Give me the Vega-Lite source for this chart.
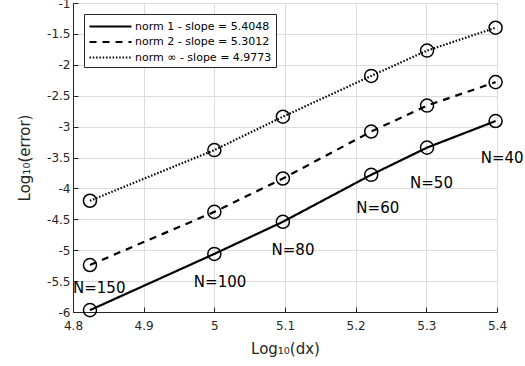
{
  "$schema": "https://vega.github.io/schema/vega-lite/v6.json",
  "width": 424,
  "height": 309,
  "autosize": "none",
  "padding": {"left": 73, "top": 3, "right": 28, "bottom": 54},
  "background": "white",
  "config": {
    "font": "DejaVu Sans",
    "view": {"stroke": "#262626", "strokeWidth": 1},
    "axis": {
      "domainColor": "#262626",
      "tickColor": "#262626",
      "labelColor": "#262626",
      "titleColor": "#262626",
      "labelFontSize": 12,
      "titleFontSize": 15,
      "titleFontWeight": "normal",
      "gridColor": "#dcdcdc",
      "gridWidth": 1,
      "tickSize": -5,
      "labelOverlap": false
    }
  },
  "datasets": {
    "pts": [
      {"series": "norm 1 - slope = 5.4048", "x": 4.824, "y": -5.97},
      {"series": "norm 1 - slope = 5.4048", "x": 5.0, "y": -5.06},
      {"series": "norm 1 - slope = 5.4048", "x": 5.097, "y": -4.54},
      {"series": "norm 1 - slope = 5.4048", "x": 5.222, "y": -3.78},
      {"series": "norm 1 - slope = 5.4048", "x": 5.301, "y": -3.34},
      {"series": "norm 1 - slope = 5.4048", "x": 5.398, "y": -2.91},
      {"series": "norm 2 - slope = 5.3012", "x": 4.824, "y": -5.24},
      {"series": "norm 2 - slope = 5.3012", "x": 5.0, "y": -4.38},
      {"series": "norm 2 - slope = 5.3012", "x": 5.097, "y": -3.84},
      {"series": "norm 2 - slope = 5.3012", "x": 5.222, "y": -3.08},
      {"series": "norm 2 - slope = 5.3012", "x": 5.301, "y": -2.66},
      {"series": "norm 2 - slope = 5.3012", "x": 5.398, "y": -2.28},
      {"series": "norm ∞ - slope = 4.9773", "x": 4.824, "y": -4.2},
      {"series": "norm ∞ - slope = 4.9773", "x": 5.0, "y": -3.38},
      {"series": "norm ∞ - slope = 4.9773", "x": 5.097, "y": -2.84},
      {"series": "norm ∞ - slope = 4.9773", "x": 5.222, "y": -2.18},
      {"series": "norm ∞ - slope = 4.9773", "x": 5.301, "y": -1.77},
      {"series": "norm ∞ - slope = 4.9773", "x": 5.398, "y": -1.4}
    ],
    "labels": [
      {"label": "N=150", "x": 4.8, "y": -5.61},
      {"label": "N=100", "x": 4.971, "y": -5.52},
      {"label": "N=80", "x": 5.081, "y": -5.0},
      {"label": "N=60", "x": 5.201, "y": -4.32},
      {"label": "N=50", "x": 5.277, "y": -3.91},
      {"label": "N=40", "x": 5.377, "y": -3.51}
    ]
  },
  "encoding": {
    "x": {
      "field": "x", "type": "quantitative",
      "scale": {"domain": [4.8, 5.4], "nice": false, "zero": false},
      "axis": {
        "values": [4.8, 4.9, 5.0, 5.1, 5.2, 5.3, 5.4],
        "labelExpr": "'' + datum.value",
        "title": "Log₁₀(dx)",
        "labelPadding": 13,
        "titlePadding": 10,
        "labelFlush": false
      }
    },
    "y": {
      "field": "y", "type": "quantitative",
      "scale": {"domain": [-6, -1], "nice": false, "zero": false},
      "axis": {
        "values": [-6, -5.5, -5, -4.5, -4, -3.5, -3, -2.5, -2, -1.5, -1],
        "labelExpr": "'' + datum.value",
        "title": "Log₁₀(error)",
        "labelPadding": 8,
        "titlePadding": 14,
        "labelFlush": false
      }
    }
  },
  "layer": [
    {
      "data": {"name": "pts"},
      "mark": {"type": "line", "color": "black", "strokeWidth": 2.2},
      "encoding": {
        "strokeDash": {
          "field": "series", "type": "nominal",
          "scale": {
            "domain": ["norm 1 - slope = 5.4048", "norm 2 - slope = 5.3012", "norm ∞ - slope = 4.9773"],
            "range": [[1, 0], [7, 6], [1.5, 1.8]]
          },
          "legend": {
            "orient": "none",
            "legendX": 11,
            "legendY": 11,
            "title": null,
            "symbolType": "M-1,0H5",
            "symbolSize": 196,
            "symbolStrokeWidth": 2.2,
            "symbolStrokeColor": "black",
            "labelFontSize": 11,
            "labelColor": "black",
            "labelOffset": 30,
            "rowPadding": 1.5,
            "padding": 4,
            "strokeColor": "#262626",
            "fillColor": "white"
          }
        }
      }
    },
    {
      "data": {"name": "pts"},
      "mark": {"type": "point", "shape": "circle", "filled": false, "color": "black", "size": 170, "strokeWidth": 1.5, "opacity": 1},
      "encoding": {
        "detail": {"field": "series", "type": "nominal"}
      }
    },
    {
      "data": {"name": "labels"},
      "mark": {"type": "text", "align": "left", "baseline": "middle", "fontSize": 15, "color": "black"},
      "encoding": {
        "text": {"field": "label", "type": "nominal"}
      }
    }
  ]
}
